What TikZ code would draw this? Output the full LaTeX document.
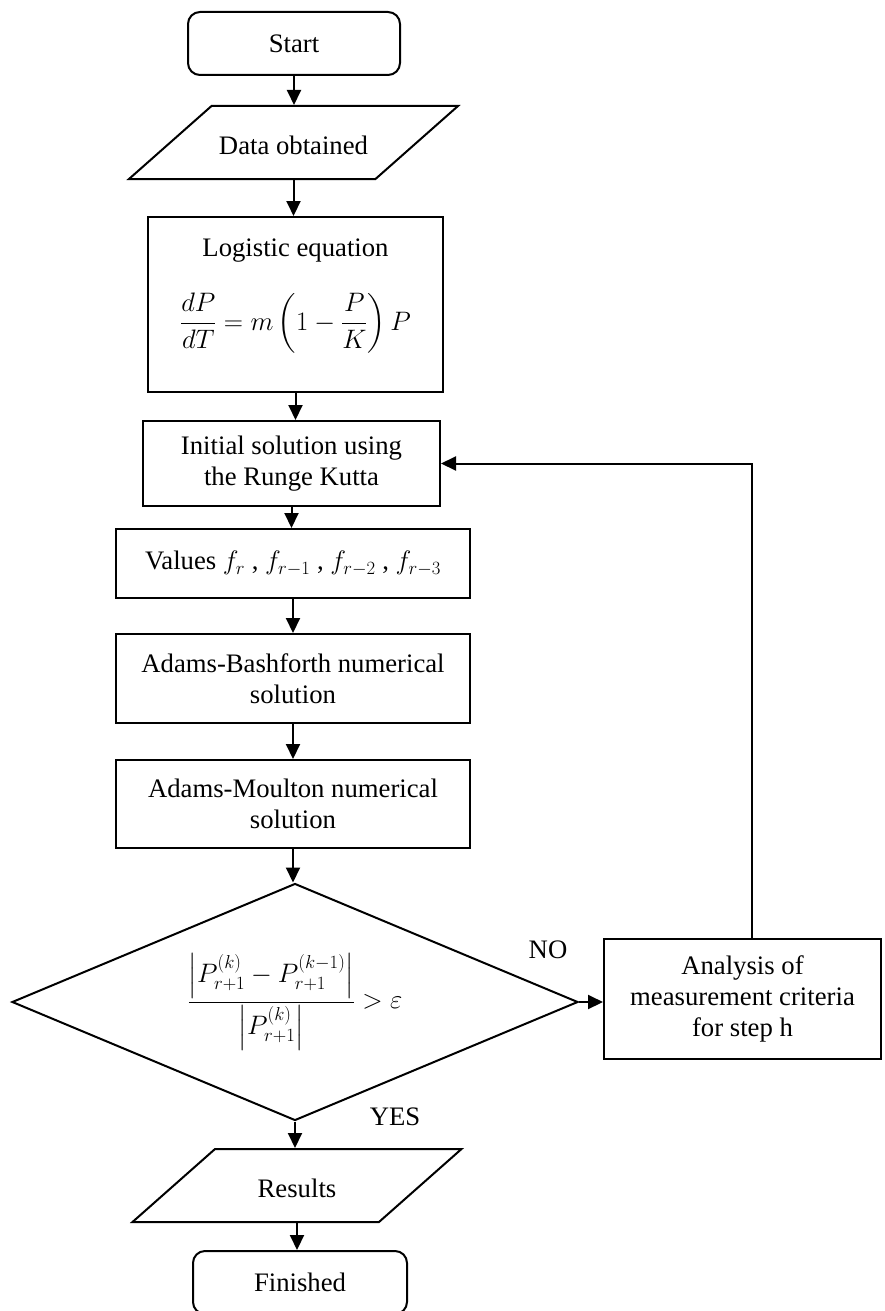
\documentclass[tikz,border=0pt]{standalone}
\usepackage{fix-cm}
\usepackage{amsmath}
\usepackage{fontspec}
\setmainfont{Liberation Serif}
\usepackage{tikz}
\usetikzlibrary{arrows.meta}
\usetikzlibrary{shapes.geometric}

\begin{document}
\begin{tikzpicture}[x=1pt, y=-1pt, line width=2pt, font=\fontsize{26.7}{31}\selectfont]
	% STYLES
	\tikzstyle{terminal} = [draw, rounded corners=12pt, minimum width=212pt, minimum height=63pt, inner sep=0pt]
	\tikzstyle{donnee} = [draw, trapezium, trapezium left angle=41.5, trapezium right angle=138.5, trapezium stretches body, text height=24pt, text depth=0pt, inner xsep=0pt, inner ysep=24.5pt, minimum width=329pt]
	\tikzstyle{bloc} = [draw, minimum width=354pt, align=center, inner sep=0pt]
	\tikzstyle{test} = [draw, diamond, aspect=2.39, minimum width=566pt, minimum height=237pt, inner sep=0pt]
	\tikzstyle{fleche} = [-{Triangle[length=15pt, width=14pt]}]

	\useasboundingbox (0, 0) rectangle (885, 1311);

	% NOEUDS
	\node[terminal] at (294, 43.5) (start) {Start};
	\node[donnee] at (293.5, 142.5) (data) {Data obtained};
	\node[bloc, minimum width=295pt, minimum height=175pt] at (295.5, 304.5) (logistic)
		{Logistic equation\\[30pt]$\displaystyle\frac{dP}{dT}=m\left(1-\frac{P}{K}\right)P\rule[-40pt]{0pt}{40pt}$};
	\node[bloc, minimum width=297pt, minimum height=85pt] at (291.5, 463.5) (init)
		{Initial solution using\\the Runge Kutta};
	\node[bloc, minimum height=69pt] at (293, 563.5) (values)
		{Values $f_r$ , $f_{r-1}$ , $f_{r-2}$ , $f_{r-3}$};
	\node[bloc, minimum height=89pt] at (293, 678.5) (bashforth)
		{Adams-Bashforth numerical\\solution};
	\node[bloc, minimum height=88pt] at (293, 804) (moulton)
		{Adams-Moulton numerical\\solution};
	\node[test] at (295, 1002) (decision)
		{$\dfrac{\left|P_{r+1}^{(k)}-P_{r+1}^{(k-1)}\right|}{\left|P_{r+1}^{(k)}\right|}>\varepsilon$};
	\node[bloc, minimum width=277pt, minimum height=120pt] at (742.5, 999) (analysis)
		{Analysis of\\measurement criteria\\for step h};
	\node[donnee] at (297, 1185.5) (results) {Results};
	\node[terminal, minimum width=214pt] at (300, 1282.5) (finished) {Finished};

	\node at (548, 950) (no) {NO};
	\node at (395, 1117) (yes) {YES};

	% FLECHES
	\foreach \a/\b in {start/data, data/logistic, logistic/init, init/values, values/bashforth, bashforth/moulton, moulton/decision, decision/results, results/finished}
		\draw[fleche] (\a.south) -- (\a.south |- \b.north);
	\draw[fleche] (decision.east) -- (decision.east -| analysis.west);
	\draw[fleche] ([xshift=9pt]analysis.north) |- (init.east);
\end{tikzpicture}
\end{document}
